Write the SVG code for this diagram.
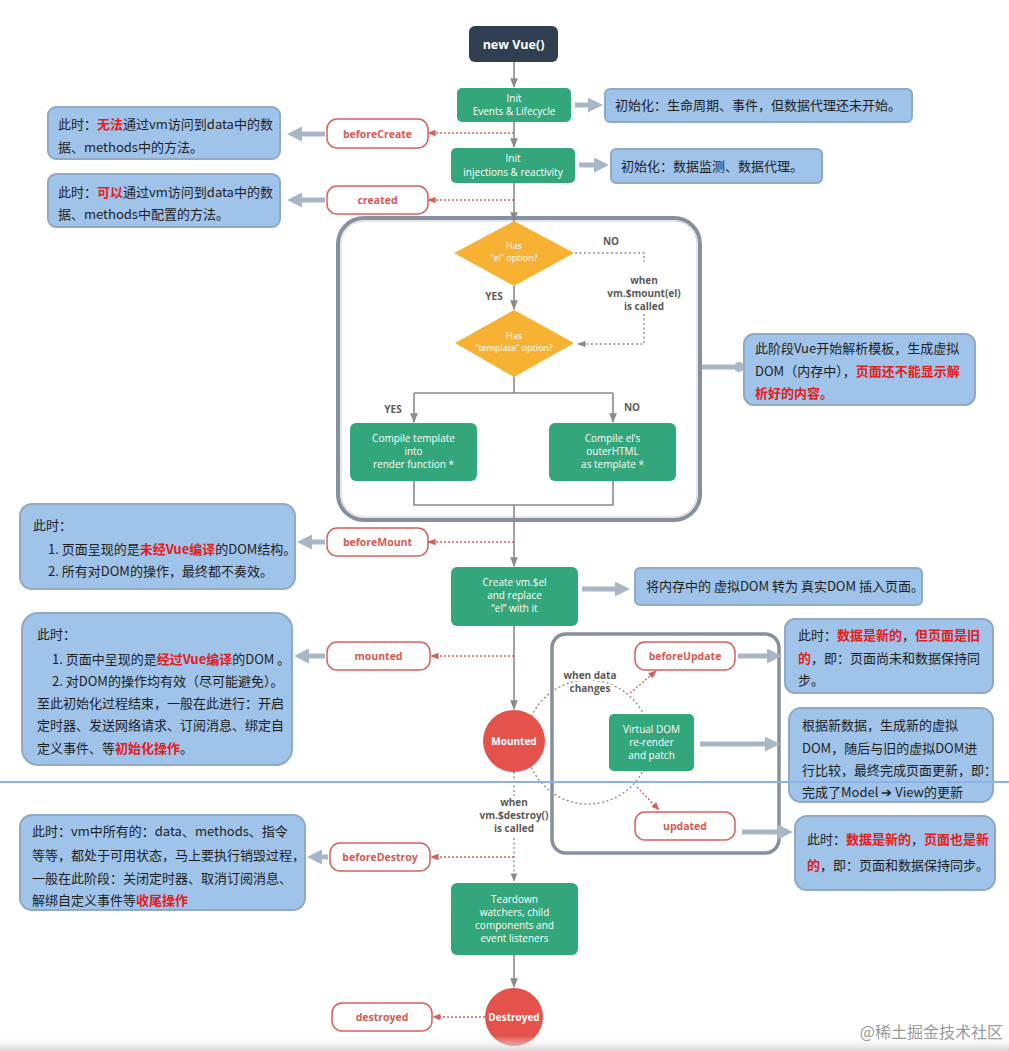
<svg xmlns="http://www.w3.org/2000/svg" width="1009" height="1051" viewBox="0 0 1009 1051">
<defs>
<style>
.g{fill:#33a67c;}
.gt{fill:#fff;font-family:"Open Sans","Noto Sans",sans-serif;font-size:10px;text-anchor:middle;}
.hook{fill:#fff;stroke:#d2615d;stroke-width:1.5;}
.ht{fill:#d25a55;font-family:"Open Sans","Noto Sans",sans-serif;font-size:10.5px;font-weight:bold;text-anchor:middle;}
.note{fill:#9fc3e9;stroke:#90a9c4;stroke-width:2;}
.nt{fill:#1e1e1e;font-family:"Noto Sans CJK SC","Noto Sans",sans-serif;font-size:13px;}
.r{fill:#e0201c;font-weight:bold;}
.flow{stroke:#8a8a8a;stroke-width:1.6;fill:none;}
.dotr{stroke:#d2615d;stroke-width:1.4;stroke-dasharray:2 2;fill:none;}
.dotg{stroke:#8e8e8e;stroke-width:1.4;stroke-dasharray:2 2.5;fill:none;}
.blk{stroke:#a9b6c6;stroke-width:5;fill:none;}
.lbl{fill:#5a5a5a;font-family:"Open Sans","Noto Sans",sans-serif;font-size:10px;font-weight:bold;text-anchor:middle;}
.dt{fill:#fff;font-family:"Open Sans","Noto Sans",sans-serif;font-size:9px;text-anchor:middle;}
.ct{fill:#fff;font-family:"Open Sans","Noto Sans",sans-serif;font-size:10px;font-weight:bold;text-anchor:middle;}
</style>
<marker id="ag" viewBox="0 0 10 10" refX="9" refY="5" markerWidth="6" markerHeight="6" orient="auto"><path d="M0,1 L10,5 L0,9 z" fill="#8a8a8a"/></marker>
<marker id="ar" viewBox="0 0 10 10" refX="9" refY="5" markerWidth="6" markerHeight="6" orient="auto"><path d="M0,1 L10,5 L0,9 z" fill="#d2615d"/></marker>
<marker id="agr" viewBox="0 0 10 10" refX="9" refY="5" markerWidth="6" markerHeight="6" orient="auto"><path d="M0,1 L10,5 L0,9 z" fill="#8e8e8e"/></marker>
<marker id="ab" viewBox="0 0 10 10" refX="6" refY="5" markerWidth="3" markerHeight="3" orient="auto"><path d="M0,0 L10,5 L0,10 z" fill="#a9b6c6"/></marker>
<marker id="ac" viewBox="0 0 10 10" refX="5" refY="5" markerWidth="2.2" markerHeight="2.2" orient="auto"><circle cx="5" cy="5" r="4.5" fill="#a9b6c6"/></marker>
<linearGradient id="bot" x1="0" y1="0" x2="0" y2="1"><stop offset="0" stop-color="#ffffff" stop-opacity="0"/><stop offset="1" stop-color="#d0d0d0" stop-opacity="0.9"/></linearGradient>
</defs>
<rect width="1009" height="1051" fill="#fff"/>

<!-- containers -->
<g id="mount-phase">
<rect x="338" y="218" width="362" height="302" rx="26" fill="#fff" stroke="#86909c" stroke-width="4"/>
<rect x="341" y="221" width="356" height="296" rx="23" fill="none" stroke="#c9d0d8" stroke-width="1"/>
</g>
<g id="update-phase">
<rect x="552" y="634" width="227" height="219" rx="14" fill="#fff" stroke="#86909c" stroke-width="3.5"/>
</g>

<!-- connectors -->
<g id="connectors">
<path class="flow" d="M514 62 V87" marker-end="url(#ag)"/>
<path class="flow" d="M514 122 V147" marker-end="url(#ag)"/>
<path class="flow" d="M514 183 V221" marker-end="url(#ag)"/>
<path class="flow" d="M514 286 V309" marker-end="url(#ag)"/>
<path class="flow" d="M514 377 V393 M414 393 H613"/>
<path class="flow" d="M414 393 V422" marker-end="url(#ag)"/>
<path class="flow" d="M613 393 V422" marker-end="url(#ag)"/>
<path class="flow" d="M414 481 V505 H613 V481"/>
<path class="flow" d="M514 505 V566" marker-end="url(#ag)"/>
<path class="flow" d="M514 626 V709" marker-end="url(#ag)"/>
<path class="flow" d="M514 955 V987" marker-end="url(#ag)"/>
<path class="dotg" d="M575 253 H644 V262 M644 314 V344 H578" marker-end="url(#agr)"/>
<path class="dotg" d="M514 772 V796 M514 838 V881" marker-end="url(#agr)"/>
<circle class="dotg" cx="588" cy="742" r="62"/>
<path class="dotr" d="M630 693 L656 671" marker-end="url(#ar)"/>
<path class="dotr" d="M637 787 L659 810" marker-end="url(#ar)"/>
<path class="dotr" d="M514 133 H428" marker-end="url(#ar)"/>
<path class="dotr" d="M514 200 H428" marker-end="url(#ar)"/>
<path class="dotr" d="M514 542 H428" marker-end="url(#ar)"/>
<path class="dotr" d="M514 656 H431" marker-end="url(#ar)"/>
<path class="dotr" d="M514 857 H431" marker-end="url(#ar)"/>
<path class="dotr" d="M485 1017 H433" marker-end="url(#ar)"/>
<path class="blk" d="M575 105 H597" marker-end="url(#ab)"/>
<path class="blk" d="M579 165 H603" marker-end="url(#ab)"/>
<path class="blk" d="M325 134 H293" marker-end="url(#ab)"/>
<path class="blk" d="M325 200 H293" marker-end="url(#ab)"/>
<path class="blk" d="M702 367 H739" marker-end="url(#ac)"/>
<path class="blk" d="M325 542 H303" marker-end="url(#ab)"/>
<path class="blk" d="M582 589 H624" marker-end="url(#ab)"/>
<path class="blk" d="M325 656 H300" marker-end="url(#ab)"/>
<path class="blk" d="M738 656 H776" marker-end="url(#ab)"/>
<path class="blk" d="M700 744 H774" marker-end="url(#ab)"/>
<path class="blk" d="M742 832 H787" marker-end="url(#ab)"/>
<path class="blk" d="M328 857 H313" marker-end="url(#ab)"/>
</g>

<g id="new-vue">
<rect x="469" y="26" width="89" height="36" rx="6" fill="#2f3e51"/>
<text x="513.5" y="48.5" fill="#fff" font-family="'Open Sans','Noto Sans',sans-serif" font-size="12.5" font-weight="bold" text-anchor="middle">new Vue()</text>
</g>
<g id="init-events">
<rect class="g" x="457" y="88" width="114" height="34" rx="5"/>
<text class="gt" x="514" y="102">Init</text>
<text class="gt" x="514" y="115">Events &amp; Lifecycle</text>
</g>
<g id="init-injections">
<rect class="g" x="451" y="148" width="124" height="35" rx="5"/>
<text class="gt" x="513" y="162">Init</text>
<text class="gt" x="513" y="176">injections &amp; reactivity</text>
</g>
<g id="has-el">
<polygon points="514,221 574,253 514,286 454,253" fill="#f8b233"/>
<text class="dt" x="514" y="249">Has</text>
<text class="dt" x="514" y="261">“el” option?</text>
</g>
<g id="has-template">
<polygon points="514,310 574,343 514,377 455,343" fill="#f8b233"/>
<text class="dt" x="514" y="339">Has</text>
<text class="dt" x="514" y="351">“template” option?</text>
</g>
<g id="labels-mount">
<text class="lbl" x="611" y="245" font-size="9">NO</text>
<text class="lbl" x="494" y="300" font-size="9">YES</text>
<text class="lbl" x="644" y="284">when</text>
<text class="lbl" x="644" y="297">vm.$mount(el)</text>
<text class="lbl" x="644" y="310">is called</text>
<text class="lbl" x="393" y="413" font-size="9">YES</text>
<text class="lbl" x="632" y="411" font-size="9">NO</text>
</g>
<g id="compile-template">
<rect class="g" x="350" y="423" width="127" height="58" rx="6"/>
<text class="gt" x="413.5" y="442" font-size="10.5">Compile template</text>
<text class="gt" x="413.5" y="455" font-size="10.5">into</text>
<text class="gt" x="413.5" y="468" font-size="10.5">render function *</text>
</g>
<g id="compile-el">
<rect class="g" x="549" y="423" width="127" height="58" rx="6"/>
<text class="gt" x="612.5" y="442" font-size="10.5">Compile el’s</text>
<text class="gt" x="612.5" y="455" font-size="10.5">outerHTML</text>
<text class="gt" x="612.5" y="468" font-size="10.5">as template *</text>
</g>
<g id="create-el">
<rect class="g" x="451" y="567" width="127" height="59" rx="6"/>
<text class="gt" x="514.5" y="586" font-size="10.5">Create vm.$el</text>
<text class="gt" x="514.5" y="599" font-size="10.5">and replace</text>
<text class="gt" x="514.5" y="612" font-size="10.5">“el” with it</text>
</g>
<g id="mounted-circle">
<circle cx="514" cy="741" r="31" fill="#e4524c"/>
<text class="ct" x="514" y="745">Mounted</text>
</g>
<g id="when-data">
<text class="lbl" x="590" y="679" stroke="#fff" stroke-width="4" paint-order="stroke">when data</text>
<text class="lbl" x="590" y="692" stroke="#fff" stroke-width="4" paint-order="stroke">changes</text>
</g>
<g id="vdom">
<rect class="g" x="609" y="714" width="85" height="57" rx="5"/>
<text class="gt" x="651.5" y="733" font-size="10.5">Virtual DOM</text>
<text class="gt" x="651.5" y="746" font-size="10.5">re-render</text>
<text class="gt" x="651.5" y="759" font-size="10.5">and patch</text>
</g>
<g id="when-destroy">
<text class="lbl" x="514" y="806">when</text>
<text class="lbl" x="514" y="819">vm.$destroy()</text>
<text class="lbl" x="514" y="832">is called</text>
</g>
<g id="teardown">
<rect class="g" x="451" y="883" width="127" height="72" rx="6"/>
<text class="gt" x="514.5" y="903" font-size="10.5">Teardown</text>
<text class="gt" x="514.5" y="916" font-size="10.5">watchers, child</text>
<text class="gt" x="514.5" y="929" font-size="10.5">components and</text>
<text class="gt" x="514.5" y="942" font-size="10.5">event listeners</text>
</g>
<g id="destroyed-circle">
<circle cx="514" cy="1017" r="29" fill="#e4524c"/>
<text class="ct" x="514" y="1021" font-size="9.5">Destroyed</text>
</g>

<!-- hooks -->
<g id="hook-beforeCreate"><rect class="hook" x="327" y="119" width="101" height="29" rx="10"/><text class="ht" x="377.5" y="137.5">beforeCreate</text></g>
<g id="hook-created"><rect class="hook" x="327" y="186" width="101" height="28" rx="10"/><text class="ht" x="377.5" y="204">created</text></g>
<g id="hook-beforeMount"><rect class="hook" x="327" y="528" width="101" height="28" rx="10"/><text class="ht" x="377.5" y="546">beforeMount</text></g>
<g id="hook-mounted"><rect class="hook" x="327" y="642" width="103" height="28" rx="10"/><text class="ht" x="378.5" y="660">mounted</text></g>
<g id="hook-beforeUpdate"><rect class="hook" x="635" y="642" width="100" height="28" rx="10"/><text class="ht" x="685" y="660">beforeUpdate</text></g>
<g id="hook-updated"><rect class="hook" x="635" y="812" width="100" height="28" rx="10"/><text class="ht" x="685" y="830">updated</text></g>
<g id="hook-beforeDestroy"><rect class="hook" x="330" y="843" width="100" height="28" rx="10"/><text class="ht" x="380" y="861">beforeDestroy</text></g>
<g id="hook-destroyed"><rect class="hook" x="332" y="1003" width="100" height="28" rx="10"/><text class="ht" x="382" y="1021">destroyed</text></g>

<!-- notes -->
<g id="note-init-events">
<rect class="note" x="605" y="89" width="307" height="33" rx="5"/>
<text class="nt" x="615" y="110">初始化：生命周期、事件，但数据代理还未开始。</text>
</g>
<g id="note-init-inj">
<rect class="note" x="611" y="149" width="211" height="34" rx="5"/>
<text class="nt" x="621" y="171">初始化：数据监测、数据代理。</text>
</g>
<g id="note-beforeCreate">
<rect class="note" x="48" y="107" width="232" height="52" rx="8"/>
<text class="nt" x="58" y="129">此时：<tspan class="r">无法</tspan>通过vm访问到data中的数</text>
<text class="nt" x="58" y="152">据、methods中的方法。</text>
</g>
<g id="note-created">
<rect class="note" x="48" y="174" width="232" height="53" rx="8"/>
<text class="nt" x="58" y="197">此时：<tspan class="r">可以</tspan>通过vm访问到data中的数</text>
<text class="nt" x="58" y="219">据、methods中配置的方法。</text>
</g>
<g id="note-template">
<rect class="note" x="744" y="334" width="231" height="71" rx="10"/>
<text class="nt" x="755" y="353">此阶段Vue开始解析模板，生成虚拟</text>
<text class="nt" x="755" y="376">DOM（内存中），<tspan class="r">页面还不能显示解</tspan></text>
<text class="nt" x="755" y="398"><tspan class="r">析好的内容。</tspan></text>
</g>
<g id="note-beforeMount">
<rect class="note" x="20" y="504" width="275" height="85" rx="12"/>
<text class="nt" x="33" y="530">此时：</text>
<text class="nt" x="48" y="554">1. 页面呈现的是<tspan class="r">未经Vue编译</tspan>的DOM结构。</text>
<text class="nt" x="48" y="576">2. 所有对DOM的操作，最终都不奏效。</text>
</g>
<g id="note-create-el">
<rect class="note" x="635" y="568" width="287" height="37" rx="5"/>
<text class="nt" x="646" y="591">将内存中的 虚拟DOM 转为 真实DOM 插入页面。</text>
</g>
<g id="note-mounted">
<rect class="note" x="22" y="613" width="270" height="152" rx="16"/>
<text class="nt" x="37" y="639" font-size="12.7">此时：</text>
<text class="nt" x="52" y="664" font-size="12.7">1. 页面中呈现的是<tspan class="r">经过Vue编译</tspan>的DOM 。</text>
<text class="nt" x="52" y="686" font-size="12.7">2. 对DOM的操作均有效（尽可能避免）。</text>
<text class="nt" x="37" y="708" font-size="12.7">至此初始化过程结束，一般在此进行：开启</text>
<text class="nt" x="37" y="730" font-size="12.7">定时器、发送网络请求、订阅消息、绑定自</text>
<text class="nt" x="37" y="753" font-size="12.7">定义事件、等<tspan class="r">初始化操作</tspan>。</text>
</g>
<g id="note-beforeUpdate">
<rect class="note" x="785" y="619" width="208" height="74" rx="10"/>
<text class="nt" x="798" y="640" font-size="12.5">此时：<tspan class="r">数据是新的</tspan>，<tspan class="r">但页面是旧</tspan></text>
<text class="nt" x="798" y="663" font-size="12.5"><tspan class="r">的</tspan>，即：页面尚未和数据保持同</text>
<text class="nt" x="798" y="685" font-size="12.5">步。</text>
</g>
<g id="note-vdom">
<rect class="note" x="789" y="708" width="204" height="94" rx="12"/>
<text class="nt" x="802" y="730" font-size="12.5">根据新数据，生成新的虚拟</text>
<text class="nt" x="802" y="753" font-size="12.5">DOM，随后与旧的虚拟DOM进</text>
<text class="nt" x="802" y="775" font-size="12.5">行比较，最终完成页面更新，即：</text>
<text class="nt" x="802" y="797" font-size="12.5">完成了Model ➔ View的更新</text>
</g>
<g id="note-updated">
<rect class="note" x="795" y="816" width="200" height="74" rx="12"/>
<text class="nt" x="807" y="844" font-size="12.5">此时：<tspan class="r">数据是新的</tspan>，<tspan class="r">页面也是新</tspan></text>
<text class="nt" x="807" y="870" font-size="12.5"><tspan class="r">的</tspan>，即：页面和数据保持同步。</text>
</g>
<g id="note-beforeDestroy">
<rect class="note" x="20" y="815" width="285" height="95" rx="12"/>
<text class="nt" x="32" y="836" font-size="11.5">此时：vm中所有的：data、methods、指令</text>
<text class="nt" x="32" y="860" font-size="11.5">等等，都处于可用状态，马上要执行销毁过程，</text>
<text class="nt" x="32" y="883" font-size="11.5">一般在此阶段：关闭定时器、取消订阅消息、</text>
<text class="nt" x="32" y="905" font-size="11.5">解绑自定义事件等<tspan class="r">收尾操作</tspan></text>
</g>

<!-- screenshot artifacts -->
<line x1="0" y1="782" x2="1009" y2="782" stroke="#8eb1ea" stroke-width="2"/>
<rect x="0" y="1036" width="1009" height="15" fill="url(#bot)"/>
<text x="1003" y="1038" fill="#9a9a9a" font-family="'Noto Sans CJK SC',sans-serif" font-size="16" text-anchor="end">@稀土掘金技术社区</text>
</svg>
